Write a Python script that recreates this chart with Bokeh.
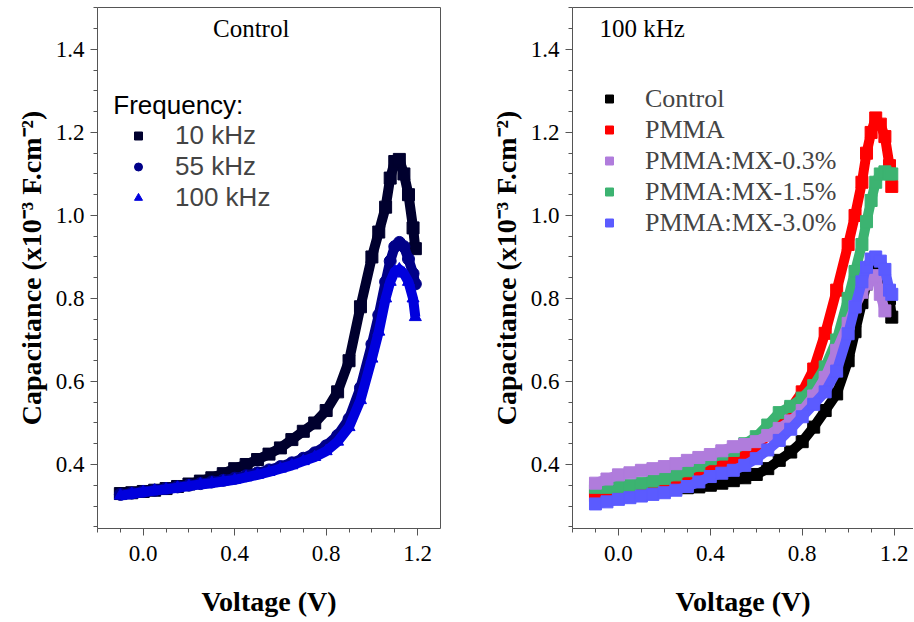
import numpy as np
from bokeh.plotting import figure
from bokeh.models import (Legend, LegendItem, Label, SingleIntervalTicker, LinearAxis,
                          FixedTicker, Range1d, PrintfTickFormatter)
from bokeh.layouts import row
from bokeh.embed import file_html
from bokeh.resources import INLINE

nan = float("nan")

# ---- data (voltage in V, capacitance in x10^-3 F/cm^2) ----
voltage = [-0.1, -0.05, 0.0, 0.05, 0.1, 0.15, 0.2, 0.25, 0.3, 0.35, 0.4, 0.45, 0.5, 0.55,
           0.6, 0.65, 0.7, 0.75, 0.8, 0.85, 0.9, 0.95, 1.0, 1.03, 1.06, 1.08, 1.1, 1.12,
           1.14, 1.16, 1.18, 1.19]

# Left panel: Control at three frequencies
cap_10k = [0.330, 0.332, 0.335, 0.338, 0.342, 0.347, 0.353, 0.360, 0.368, 0.378, 0.390, 0.400,
           0.412, 0.425, 0.440, 0.460, 0.480, 0.500, 0.530, 0.575, 0.650, 0.780, 0.900, 0.960,
           1.020, 1.090, 1.130, 1.135, 1.100, 1.050, 0.970, 0.920]
cap_55k = [0.328, 0.331, 0.335, 0.338, 0.342, 0.346, 0.350, 0.354, 0.358, 0.362, 0.367, 0.373,
           0.380, 0.387, 0.395, 0.404, 0.415, 0.428, 0.445, 0.470, 0.510, 0.585, 0.690, 0.760,
           0.840, 0.890, 0.925, 0.935, 0.925, 0.895, 0.860, 0.835]
cap_100k = [0.325, 0.329, 0.333, 0.337, 0.340, 0.344, 0.348, 0.352, 0.355, 0.359, 0.363, 0.369,
            0.375, 0.382, 0.390, 0.398, 0.408, 0.418, 0.432, 0.455, 0.490, 0.555, 0.655, 0.720,
            0.800, 0.840, 0.865, 0.870, 0.860, 0.840, 0.800, 0.755]

# Right panel: 100 kHz, different devices
cap_control = [0.337, 0.337, 0.338, 0.339, 0.340, 0.341, 0.342, 0.343, 0.344, 0.346, 0.350, 0.355,
               0.361, 0.368, 0.376, 0.390, 0.410, 0.430, 0.455, 0.490, 0.530, 0.570, 0.650, 0.720,
               0.790, 0.835, 0.860, 0.870, 0.860, 0.830, 0.800, 0.755]
cap_pmma = [0.325, 0.328, 0.333, 0.337, 0.341, 0.345, 0.350, 0.356, 0.365, 0.378, 0.395, 0.402,
            0.410, 0.425, 0.443, 0.470, 0.506, 0.535, 0.575, 0.630, 0.716, 0.820, 0.930, 1.000,
            1.080, 1.150, 1.200, 1.235, 1.220, 1.190, 1.120, 1.070]
cap_mx03 = [0.355, 0.365, 0.375, 0.380, 0.386, 0.390, 0.395, 0.402, 0.410, 0.417, 0.424, 0.433,
            0.443, 0.448, 0.455, 0.470, 0.487, 0.505, 0.530, 0.565, 0.610, 0.675, 0.740, 0.780,
            0.815, 0.835, 0.850, 0.855, 0.810, 0.770, nan, nan]
cap_mx15 = [0.345, 0.345, 0.347, 0.350, 0.355, 0.360, 0.366, 0.375, 0.385, 0.398, 0.414, 0.425,
            0.434, 0.450, 0.467, 0.495, 0.525, 0.540, 0.560, 0.590, 0.635, 0.700, 0.800, 0.865,
            0.930, 0.985, 1.036, 1.080, 1.100, 1.105, 1.100, 1.100]
cap_mx30 = [0.305, 0.310, 0.316, 0.320, 0.324, 0.328, 0.332, 0.338, 0.347, 0.358, 0.371, 0.379,
            0.386, 0.398, 0.414, 0.435, 0.458, 0.485, 0.515, 0.545, 0.575, 0.625, 0.715, 0.780,
            0.840, 0.875, 0.895, 0.900, 0.890, 0.870, 0.820, 0.810]

left_labels = ["10 kHz", "55 kHz", "100 kHz"]
right_labels = ["Control", "PMMA", "PMMA:MX-0.3%", "PMMA:MX-1.5%", "PMMA:MX-3.0%"]

AX = "#555555"
SERIF = "Liberation Serif"
SANS = "Liberation Sans"
YLABEL = "Capacitance (x10\u207b\u00b3 F.cm\u207b\u00b2)"


def make_fig(x_end, frame_w, border_right):
    p = figure(frame_width=frame_w, frame_height=521,
               x_range=Range1d(-0.2, x_end), y_range=Range1d(0.2458, 1.501),
               output_backend="svg", toolbar_location=None,
               min_border_left=97 if border_right > 10 else 89, min_border_right=border_right,
               min_border_top=7, min_border_bottom=86)
    p.outline_line_color = None
    p.grid.visible = False
    p.background_fill_color = "white"
    p.border_fill_color = "white"
    p.xaxis.ticker = SingleIntervalTicker(interval=0.4, num_minor_ticks=4)
    p.yaxis.ticker = SingleIntervalTicker(interval=0.2, num_minor_ticks=4)
    p.xaxis.formatter = PrintfTickFormatter(format="%.1f")
    p.yaxis.formatter = PrintfTickFormatter(format="%.1f")
    p.xaxis.axis_label = "Voltage (V)"
    p.yaxis.axis_label = YLABEL
    for ax in (p.xaxis[0], p.yaxis[0]):
        ax.axis_line_color = AX
        ax.major_tick_line_color = AX
        ax.minor_tick_line_color = AX
        ax.major_tick_in = 0
        ax.major_tick_out = 7
        ax.minor_tick_in = 0
        ax.minor_tick_out = 4
        ax.major_label_text_font = SERIF
        ax.major_label_text_font_size = "23px"
        ax.major_label_text_color = "black"
        ax.axis_label_text_font = SERIF
        ax.axis_label_text_font_style = "bold"
        ax.axis_label_text_font_size = "28px"
        ax.axis_label_text_color = "black"
    p.xaxis.major_label_standoff = 10
    p.xaxis.axis_label_standoff = 22
    p.yaxis.major_label_standoff = 6
    p.yaxis.axis_label_standoff = 6
    # top frame line
    top = LinearAxis(ticker=FixedTicker(ticks=[]), axis_line_color=AX, major_tick_out=0,
                     minor_tick_out=0, major_label_standoff=0)
    p.add_layout(top, "above")
    return p


def series(p, ys, marker, color):
    x = np.array(voltage, dtype=float)
    y = np.array(ys, dtype=float)
    p.line(x, y, line_color=color, line_width=10, line_join="round")
    return p.scatter(x, y, marker=marker, size=12, fill_color=color, line_color=color)


# ---- left panel ----
p1 = make_fig(1.3, 343, 43)
rt = LinearAxis(ticker=FixedTicker(ticks=[]), axis_line_color=AX, major_tick_out=0,
                minor_tick_out=0, major_label_standoff=0)
p1.add_layout(rt, "right")
r10 = series(p1, cap_10k, "square", "#00002E")
r55 = series(p1, cap_55k, "circle", "#000088")
r100 = series(p1, cap_100k, "triangle", "#0000DD")
leg1 = Legend(items=[LegendItem(label=left_labels[0], renderers=[r10]),
                     LegendItem(label=left_labels[1], renderers=[r55]),
                     LegendItem(label=left_labels[2], renderers=[r100])],
              location=(31, 315), padding=0, margin=0, spacing=0,
              glyph_width=20, glyph_height=31, label_height=31, label_standoff=27,
              border_line_color=None, background_fill_alpha=0,
              label_text_font=SANS, label_text_font_size="26px")
p1.add_layout(leg1, "center")
p1.add_layout(Label(x=0.472, y=1.45, text="Control", text_font=SERIF, text_font_size="25px",
                    text_align="center", text_baseline="middle", text_color="black"))
p1.add_layout(Label(x=-0.131, y=1.265, text="Frequency:", text_font=SANS, text_font_size="26px",
                    text_align="left", text_baseline="middle", text_color="black"))

# ---- right panel ----
p2 = make_fig(1.2845, 341, 0)
rc = series(p2, cap_control, "square", "#000000")
rp = series(p2, cap_pmma, "square", "#FF0000")
r15 = series(p2, cap_mx15, "square", "#3CB371")
r03 = series(p2, cap_mx03, "square", "#B07CDC")
r30 = series(p2, cap_mx30, "square", "#5B5BFF")
leg2 = Legend(items=[LegendItem(label=right_labels[0], renderers=[rc]),
                     LegendItem(label=right_labels[1], renderers=[rp]),
                     LegendItem(label=right_labels[2], renderers=[r03]),
                     LegendItem(label=right_labels[3], renderers=[r15]),
                     LegendItem(label=right_labels[4], renderers=[r30])],
              location=(27, 290), padding=0, margin=0, spacing=0,
              glyph_width=20, glyph_height=31, label_height=31, label_standoff=26,
              border_line_color=None, background_fill_alpha=0,
              label_text_font=SERIF, label_text_font_size="26px")
p2.add_layout(leg2, "center")
p2.add_layout(Label(x=-0.083, y=1.45, text="100 kHz", text_font=SERIF, text_font_size="25px",
                    text_align="left", text_baseline="middle", text_color="black"))

layout = row(p1, p2)
open("out.html", "w").write(file_html(layout, INLINE))
